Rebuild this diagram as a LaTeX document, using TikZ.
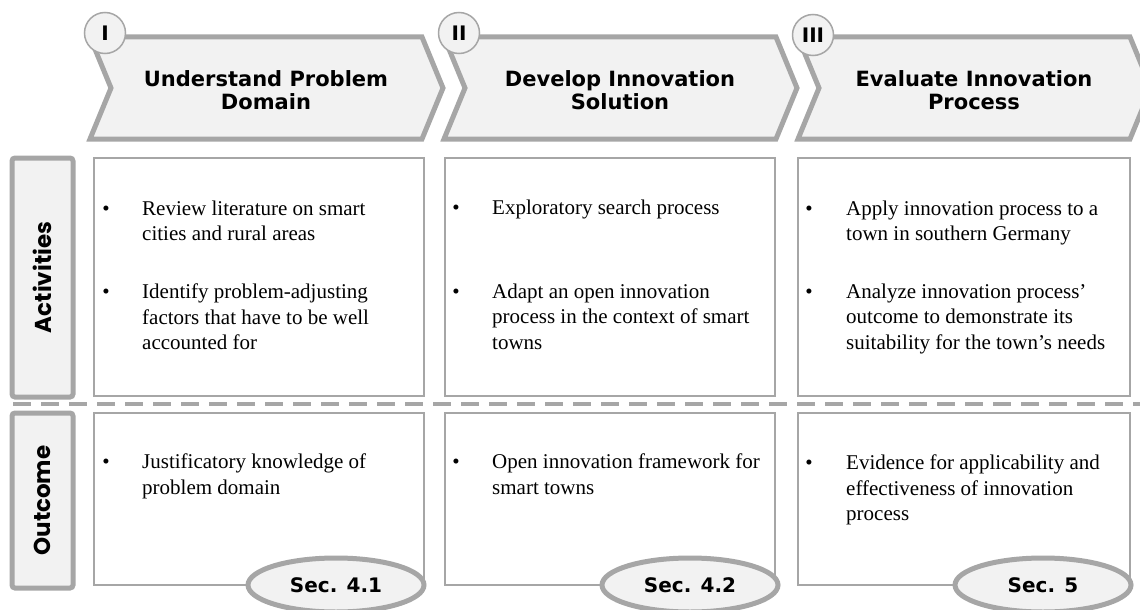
\documentclass[tikz,border=0pt]{standalone}
\usepackage{fontspec}
\setmainfont{Liberation Serif}
\newfontfamily\headfont{DejaVu Sans}
\newfontfamily\rowfont{Poppins}
\usetikzlibrary{shapes.geometric}
\definecolor{lgrey}{RGB}{166,166,166}
\definecolor{pgrey}{RGB}{242,242,242}

\begin{document}
\begin{tikzpicture}[x=1pt,y=-1pt]
      \tikzstyle{phase}=[draw=lgrey,fill=pgrey,line width=5pt,line join=miter]
      \tikzstyle{phasetext}=[font=\headfont\bfseries\fontsize{21}{23.5}\selectfont,align=center,inner sep=0pt]
      \tikzstyle{num}=[circle,draw=lgrey,fill=pgrey,line width=1.5pt,minimum size=41pt,inner sep=0pt,font=\headfont\bfseries\fontsize{20}{20}\selectfont]
      \tikzstyle{rowlabel}=[draw=lgrey,fill=pgrey,line width=5pt,rounded corners=3pt,minimum height=61pt,inner sep=0pt,rotate=90,font=\rowfont\bfseries\fontsize{23}{23}\selectfont]
      \tikzstyle{cell}=[draw=lgrey,line width=1.5pt,fill=white]
      \tikzstyle{bullet}=[anchor=base,font=\fontsize{21}{25.5}\selectfont,inner sep=0pt]
      \tikzstyle{entry}=[anchor=north west,yshift=14.4pt,align=left,font=\fontsize{21}{25.5}\selectfont,inner sep=0pt]
      \tikzstyle{sec}=[ellipse,draw=lgrey,fill=pgrey,line width=5pt,minimum width=176pt,minimum height=54pt,inner sep=0pt,font=\headfont\bfseries\fontsize{20}{20}\selectfont]

      \useasboundingbox (0,0) rectangle (1140,610);

      % phases
      \draw[phase] (90,37) -- ++(332,0) -- ++(21,51) -- ++(-21,51) -- ++(-332,0) -- ++(21,-51) -- cycle;
      \draw[phase] (444,37) -- ++(332,0) -- ++(21,51) -- ++(-21,51) -- ++(-332,0) -- ++(21,-51) -- cycle;
      \draw[phase] (798,37) -- ++(332,0) -- ++(21,51) -- ++(-21,51) -- ++(-332,0) -- ++(21,-51) -- cycle;

      \node[phasetext] (P1) at (266,90) {Understand Problem\\Domain};
      \node[phasetext] (P2) at (620,90) {Develop Innovation\\Solution};
      \node[phasetext] (P3) at (974,90) {Evaluate Innovation\\Process};

      \node[num] (N1) at (105,33) {I};
      \node[num] (N2) at (459,33) {II};
      \node[num] (N3) at (813,35) {III};

      % rows
      \node[rowlabel,minimum width=239pt] (act) at (42.5,277.5) {Activities};
      \node[rowlabel,minimum width=175pt] (out) at (42.5,500.5) {Outcome};

      \draw[cell] (94,158) rectangle (424,396);
      \draw[cell] (445,158) rectangle (775,396);
      \draw[cell] (798,158) rectangle (1130,396);
      \draw[cell] (94,413) rectangle (424,585);
      \draw[cell] (445,413) rectangle (775,585);
      \draw[cell] (798,413) rectangle (1130,585);

      \draw[lgrey,line width=4pt,dash pattern=on 18pt off 10pt] (13,404) -- (1140,404);

      % activities
      \node[bullet] (b11) at (106,215) {•};
      \node[entry]  (a11) at (142,215) {Review literature on smart\\cities and rural areas};
      \node[bullet] (b12) at (106,298) {•};
      \node[entry]  (a12) at (142,298) {Identify problem-adjusting\\factors that have to be well\\accounted for};

      \node[bullet] (b21) at (456,214) {•};
      \node[entry]  (a21) at (492,214) {Exploratory search process};
      \node[bullet] (b22) at (456,298) {•};
      \node[entry]  (a22) at (492,298) {Adapt an open innovation\\process in the context of smart\\towns};

      \node[bullet] (b31) at (809,215) {•};
      \node[entry]  (a31) at (846,215) {Apply innovation process to a\\town in southern Germany};
      \node[bullet] (b32) at (809,298) {•};
      \node[entry]  (a32) at (846,298) {Analyze innovation process’\\outcome to demonstrate its\\suitability for the town’s needs};

      % outcomes
      \node[bullet] (b13) at (106,468) {•};
      \node[entry]  (o1) at (142,468) {Justificatory knowledge of\\problem domain};
      \node[bullet] (b23) at (456,468) {•};
      \node[entry]  (o2) at (492,468) {Open innovation framework for\\smart towns};
      \node[bullet] (b33) at (809,469) {•};
      \node[entry]  (o3) at (846,469) {Evidence for applicability and\\effectiveness of innovation\\process};

      \node[sec] (S1) at (336,585) {Sec. 4.1};
      \node[sec] (S2) at (690,585) {Sec. 4.2};
      \node[sec] (S3) at (1043,585) {Sec. 5};

  \end{tikzpicture}
\end{document}
